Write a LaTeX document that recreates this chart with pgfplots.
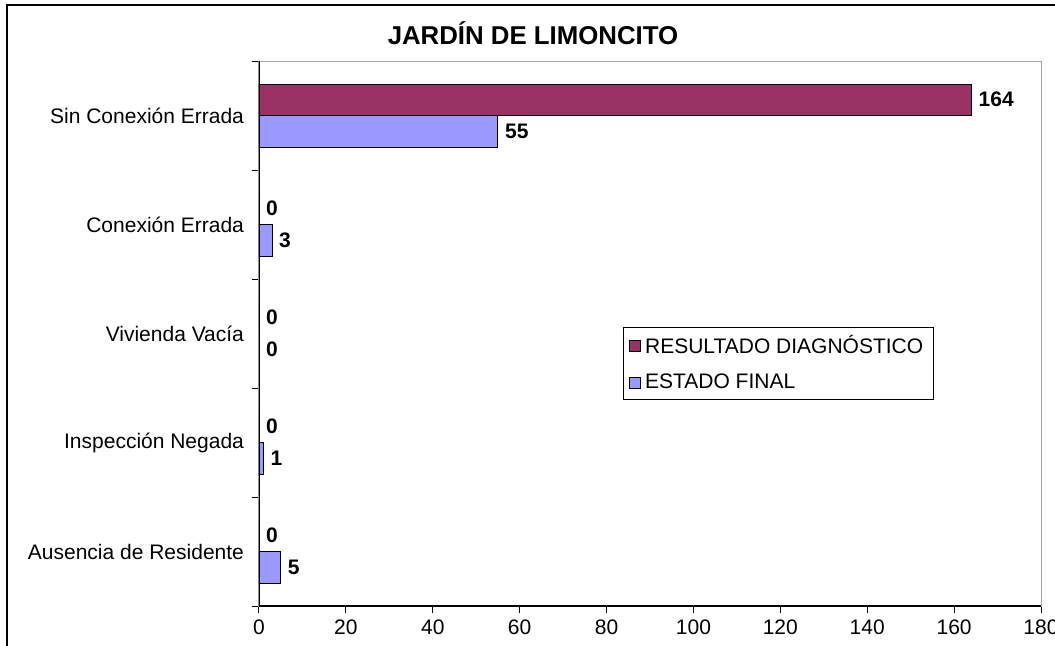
\documentclass[border=0pt]{standalone}
\usepackage{pgfplots}
\pgfplotsset{compat=1.18}
\usepackage{fontspec}
\setmainfont{Liberation Sans}
\definecolor{diag}{HTML}{993366}
\definecolor{fin}{HTML}{9999FF}

\begin{document}
\begin{tikzpicture}
\useasboundingbox (-129.5pt,-19.5pt) rectangle (398pt,303pt);
% outer chart frame (cut by the picture on the right and bottom)
\draw[line width=1pt] (-126pt,-40pt) -- (-126pt,300.5pt) -- (420pt,300.5pt);
\node[font=\fontsize{12.9}{15}\selectfont\bfseries] at (137pt,286.5pt) {JARDÍN DE LIMONCITO};
\begin{axis}[
  at={(0pt,0pt)}, anchor=south west,
  scale only axis, width=391pt, height=272.5pt,
  xbar, bar width=15.75pt,
  xmin=0, xmax=180, ymin=-0.5, ymax=4.5,
  xtick={0,20,...,180},
  ytick={-0.5,0.5,1.5,2.5,3.5,4.5}, yticklabels={},
  extra y ticks={0,1,2,3,4},
  extra y tick labels={Ausencia de Residente,Inspección Negada,Vivienda Vacía,Conexión Errada,Sin Conexión Errada},
  extra y tick style={major tick length=0pt, yticklabel style={xshift=-4pt}},
  tick align=outside, major tick length=3.5pt,
  xtick pos=bottom, ytick pos=left,
  axis line style={draw=gray!70, line width=0.5pt},
  tick style={black, line width=0.5pt},
  tick label style={font=\fontsize{10.5}{12}\selectfont},
  /pgf/number format/assume math mode=true,
  point meta=x,
  nodes near coords,
  every node near coord/.append style={font=\fontsize{10.5}{12}\selectfont\bfseries, anchor=west},
  legend style={at={(0.465,0.512)}, anchor=north west, draw=black, line width=0.5pt,
    font=\fontsize{10.5}{12}\selectfont, row sep=4.5pt, inner xsep=3pt, inner ysep=2pt},
  legend cell align=left,
  legend image code/.code={\draw[#1, line width=0.5pt] (0pt,-2.75pt) rectangle (5.5pt,2.75pt);},
]
\addplot[fill=diag, draw=black, line width=0.5pt, bar shift=7.875pt]
  coordinates {(0,0) (0,1) (0,2) (0,3) (164,4)};
\addplot[fill=fin, draw=black, line width=0.5pt, bar shift=-7.875pt]
  coordinates {(5,0) (1,1) (0,2) (3,3) (55,4)};
\legend{RESULTADO DIAGNÓSTICO, ESTADO FINAL}
\draw[black, line width=0.6pt] (rel axis cs:0,1) -- (rel axis cs:0,0) -- (rel axis cs:1,0);
\end{axis}
\end{tikzpicture}
\end{document}
